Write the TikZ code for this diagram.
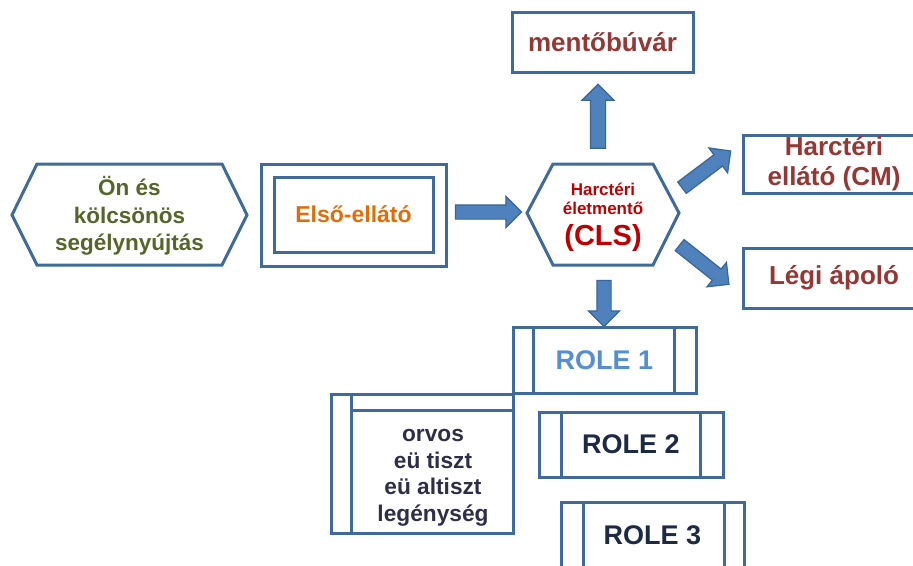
\documentclass[tikz,border=0pt]{standalone}
\usepackage{fontspec}
\setmainfont{Liberation Sans}
\usetikzlibrary{shapes.arrows}
\definecolor{bord}{HTML}{3F6A9C}
\definecolor{arrowfill}{HTML}{4F81BD}
\definecolor{arrowline}{HTML}{3A6599}
\definecolor{olivetxt}{HTML}{56652A}
\definecolor{orangetxt}{HTML}{E36C0A}
\definecolor{brick}{HTML}{953735}
\definecolor{clsred}{HTML}{C00000}
\definecolor{roleblue}{HTML}{558ED5}
\definecolor{navytxt}{HTML}{1C2A45}
\definecolor{listtxt}{HTML}{2E2E4A}
\begin{document}
\begin{tikzpicture}[x=1pt,y=-1pt,
  box/.style={draw=bord, line width=3pt, fill=white, inner sep=0pt},
  hexline/.style={draw=bord, line width=3pt, line join=miter, fill=white},
  barrow/.style={single arrow, draw=arrowline, fill=arrowfill, line width=1.2pt,
    inner xsep=0pt, inner ysep=6.5pt, minimum width=0pt, single arrow head extend=8.5pt,
    single arrow tip angle=90},
  bigtxt/.style={font=\fontsize{26}{30}\selectfont\bfseries, text=brick, align=center},
  roletxt/.style={font=\fontsize{27}{30}\selectfont\bfseries}]
\useasboundingbox (0,0) rectangle (913,565);
\clip (0,0) rectangle (913,565);
\fill[white] (0,0) rectangle (913,565);

% left hexagon
\draw[hexline] (12,215) -- (37,164) -- (222,164) -- (247,215) -- (222,265) -- (37,265) -- cycle;
\node[font=\fontsize{22.5}{27.5}\selectfont\bfseries, text=olivetxt, align=center]
  (onkol) at (129.5,216) {Ön és\\kölcsönös\\segélynyújtás};

% double rectangle
\node[box, minimum width=185pt, minimum height=102pt] (elsoout) at (353.5,215) {};
\node[box, minimum width=159pt, minimum height=75pt,
  font=\fontsize{23}{27}\selectfont\bfseries, text=orangetxt] (elso) at (353.5,214.5) {Első-ellátó};

% centre hexagon
\draw[hexline] (527,213) -- (553,164) -- (653,164) -- (679,213) -- (653,265) -- (553,265) -- cycle;
\node[anchor=base, font=\fontsize{17}{19}\selectfont\bfseries, text=clsred] (clsa) at (603,195) {Harctéri};
\node[anchor=base, font=\fontsize{17}{19}\selectfont\bfseries, text=clsred] (clsb) at (603,214) {életmentő};
\node[anchor=base, font=\fontsize{29}{32}\selectfont\bfseries, text=clsred] (clsc) at (603,245) {(CLS)};

% top and right boxes
\node[box, bigtxt, minimum width=181pt, minimum height=60pt] (buvar) at (602.5,42) {mentőbúvár};
\node[box, bigtxt, minimum width=182pt, minimum height=58pt] (cm) at (834,164) {Harctéri\\ellátó (CM)};
\node[box, bigtxt, minimum width=182pt, minimum height=60pt] (legi) at (834,278) {Légi ápoló};

% block arrows
\node[barrow, minimum height=66pt] (a1) at (485,212) {};
\node[barrow, minimum height=64pt, inner ysep=7pt, rotate=90] (a2) at (598,120) {};
\node[barrow, minimum height=46pt, rotate=-90] (a3) at (604,300) {};
\node[barrow, minimum height=61pt, rotate=37] (a4) at (703.5,171.5) {};
\node[barrow, minimum height=63pt, rotate=-38.5] (a5) at (701.5,262.5) {};

% list box
\node[box, minimum width=182pt, minimum height=139pt] (list) at (422,463.5) {};
\draw[bord, line width=3pt] ([xshift=22pt]list.north west) -- ([xshift=22pt]list.south west);
\draw[bord, line width=3pt] ([xshift=22pt,yshift=-18pt]list.north west) -- ([yshift=-18pt]list.north east);
\node[font=\fontsize{22.7}{26.5}\selectfont\bfseries, text=listtxt, align=center]
  (listtext) at (433,478) {orvos\\eü tiszt\\eü altiszt\\legénység};

% role boxes
\node[box, roletxt, text=roleblue, minimum width=183pt, minimum height=66pt] (r1) at (604.5,360) {ROLE 1};
\draw[bord, line width=3pt] ([xshift=22pt]r1.north west) -- ([xshift=22pt]r1.south west);
\draw[bord, line width=3pt] ([xshift=-23pt]r1.north east) -- ([xshift=-23pt]r1.south east);

\node[box, roletxt, text=navytxt, minimum width=184pt, minimum height=65pt] (r2) at (631,444.5) {ROLE 2};
\draw[bord, line width=3pt] ([xshift=24pt]r2.north west) -- ([xshift=24pt]r2.south west);
\draw[bord, line width=3pt] ([xshift=-24pt]r2.north east) -- ([xshift=-24pt]r2.south east);

\node[box, roletxt, text=navytxt, minimum width=183pt, minimum height=66pt] (r3) at (652.5,535) {ROLE 3};
\draw[bord, line width=3pt] ([xshift=24pt]r3.north west) -- ([xshift=24pt]r3.south west);
\draw[bord, line width=3pt] ([xshift=-21pt]r3.north east) -- ([xshift=-21pt]r3.south east);
\end{tikzpicture}
\end{document}
